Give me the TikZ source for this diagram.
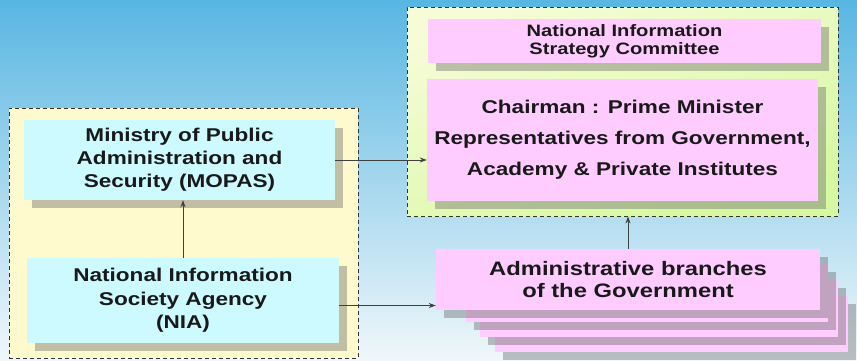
\documentclass[tikz,border=0pt]{standalone}
\usepackage{fontspec}
\setmainfont{Liberation Sans}
\newfontfamily\boxfont[FakeStretch=1.22]{Liberation Sans}
\usetikzlibrary{shadows,arrows.meta}

\definecolor{skyblue}{RGB}{88,182,226}
\definecolor{skymid}{RGB}{196,230,242}
\definecolor{skylight}{RGB}{240,247,250}
\definecolor{lemonfill}{RGB}{255,250,205}
\definecolor{limetop}{RGB}{246,252,214}
\definecolor{limebot}{RGB}{214,248,162}
\definecolor{cyanfill}{RGB}{204,250,255}
\definecolor{pinkfill}{RGB}{255,204,255}

\tikzset{
  groupframe/.style={draw=black!80, dash pattern=on 4pt off 3pt, line width=0.8pt, inner sep=0pt},
  boxshadow/.style={drop shadow={shadow xshift=8pt, shadow yshift=-8pt, fill=black!60, opacity=.4}},
  agencybox/.style={fill=cyanfill, boxshadow, inner sep=0pt, align=center, text=black!90},
  councilbox/.style={fill=pinkfill, boxshadow, inner sep=0pt, align=center, text=black!90},
  flow/.style={-{Stealth[length=7pt,width=5pt]}, line width=1pt, black!75},
}

\begin{document}
\begin{tikzpicture}[x=1pt,y=-1pt]

% Sky background
\shade[top color=skyblue, middle color=skymid, bottom color=skylight] (0,0) rectangle (857,360);
\useasboundingbox (0,0) rectangle (857,360);

% Left group: ministry and agency
\node[groupframe, fill=lemonfill, minimum width=349pt, minimum height=250pt] (lframe) at (183.5,233) {};

\node[agencybox, minimum width=311pt, minimum height=80pt,
      font=\boxfont\bfseries\fontsize{18.5}{23}\selectfont] (mopas) at (179.5,160)
      {Ministry of Public\\Administration and\\Security (MOPAS)};

\node[agencybox, minimum width=312pt, minimum height=85pt,
      font=\boxfont\bfseries\fontsize{18.5}{23.5}\selectfont] (nia) at (183,300.5)
      {National Information\\Society Agency\\(NIA)};

% Right group: the committee
\node[groupframe, top color=limetop, bottom color=limebot, shading angle=20,
      minimum width=431pt, minimum height=209pt] (rframe) at (622.5,111.5) {};

\node[councilbox, minimum width=393pt, minimum height=44pt,
      font=\boxfont\bfseries\fontsize{16.5}{18}\selectfont] (title) at (624.5,41)
      {National Information\\Strategy Committee};

\node[councilbox, minimum width=391pt, minimum height=122pt,
      font=\boxfont\bfseries\fontsize{18.5}{31}\selectfont] (chair) at (622.5,140)
      {Chairman : Prime Minister\\Representatives from Government,\\Academy \& Private Institutes};

% Stack of administrative branches (back to front)
\fill[pinkfill, boxshadow] (495,296) rectangle (848,352);
\fill[pinkfill, boxshadow] (480,280) rectangle (838,337);
\fill[pinkfill, boxshadow] (466,264) rectangle (828,322);

\node[councilbox, minimum width=384pt, minimum height=61pt,
      font=\boxfont\bfseries\fontsize{19.5}{22}\selectfont] (admin) at (628,279.5)
      {Administrative branches\\of the Government};

% Connectors
\draw[flow] (nia.north) -- (nia.north |- mopas.south);
\draw[flow] (mopas.east) -- (mopas.east -| chair.west);
\draw[flow] ([yshift=-5pt]nia.east) -- ([yshift=-5pt]nia.east -| admin.west);
\draw[flow] (admin.north) -- (admin.north |- rframe.south);

\end{tikzpicture}
\end{document}
